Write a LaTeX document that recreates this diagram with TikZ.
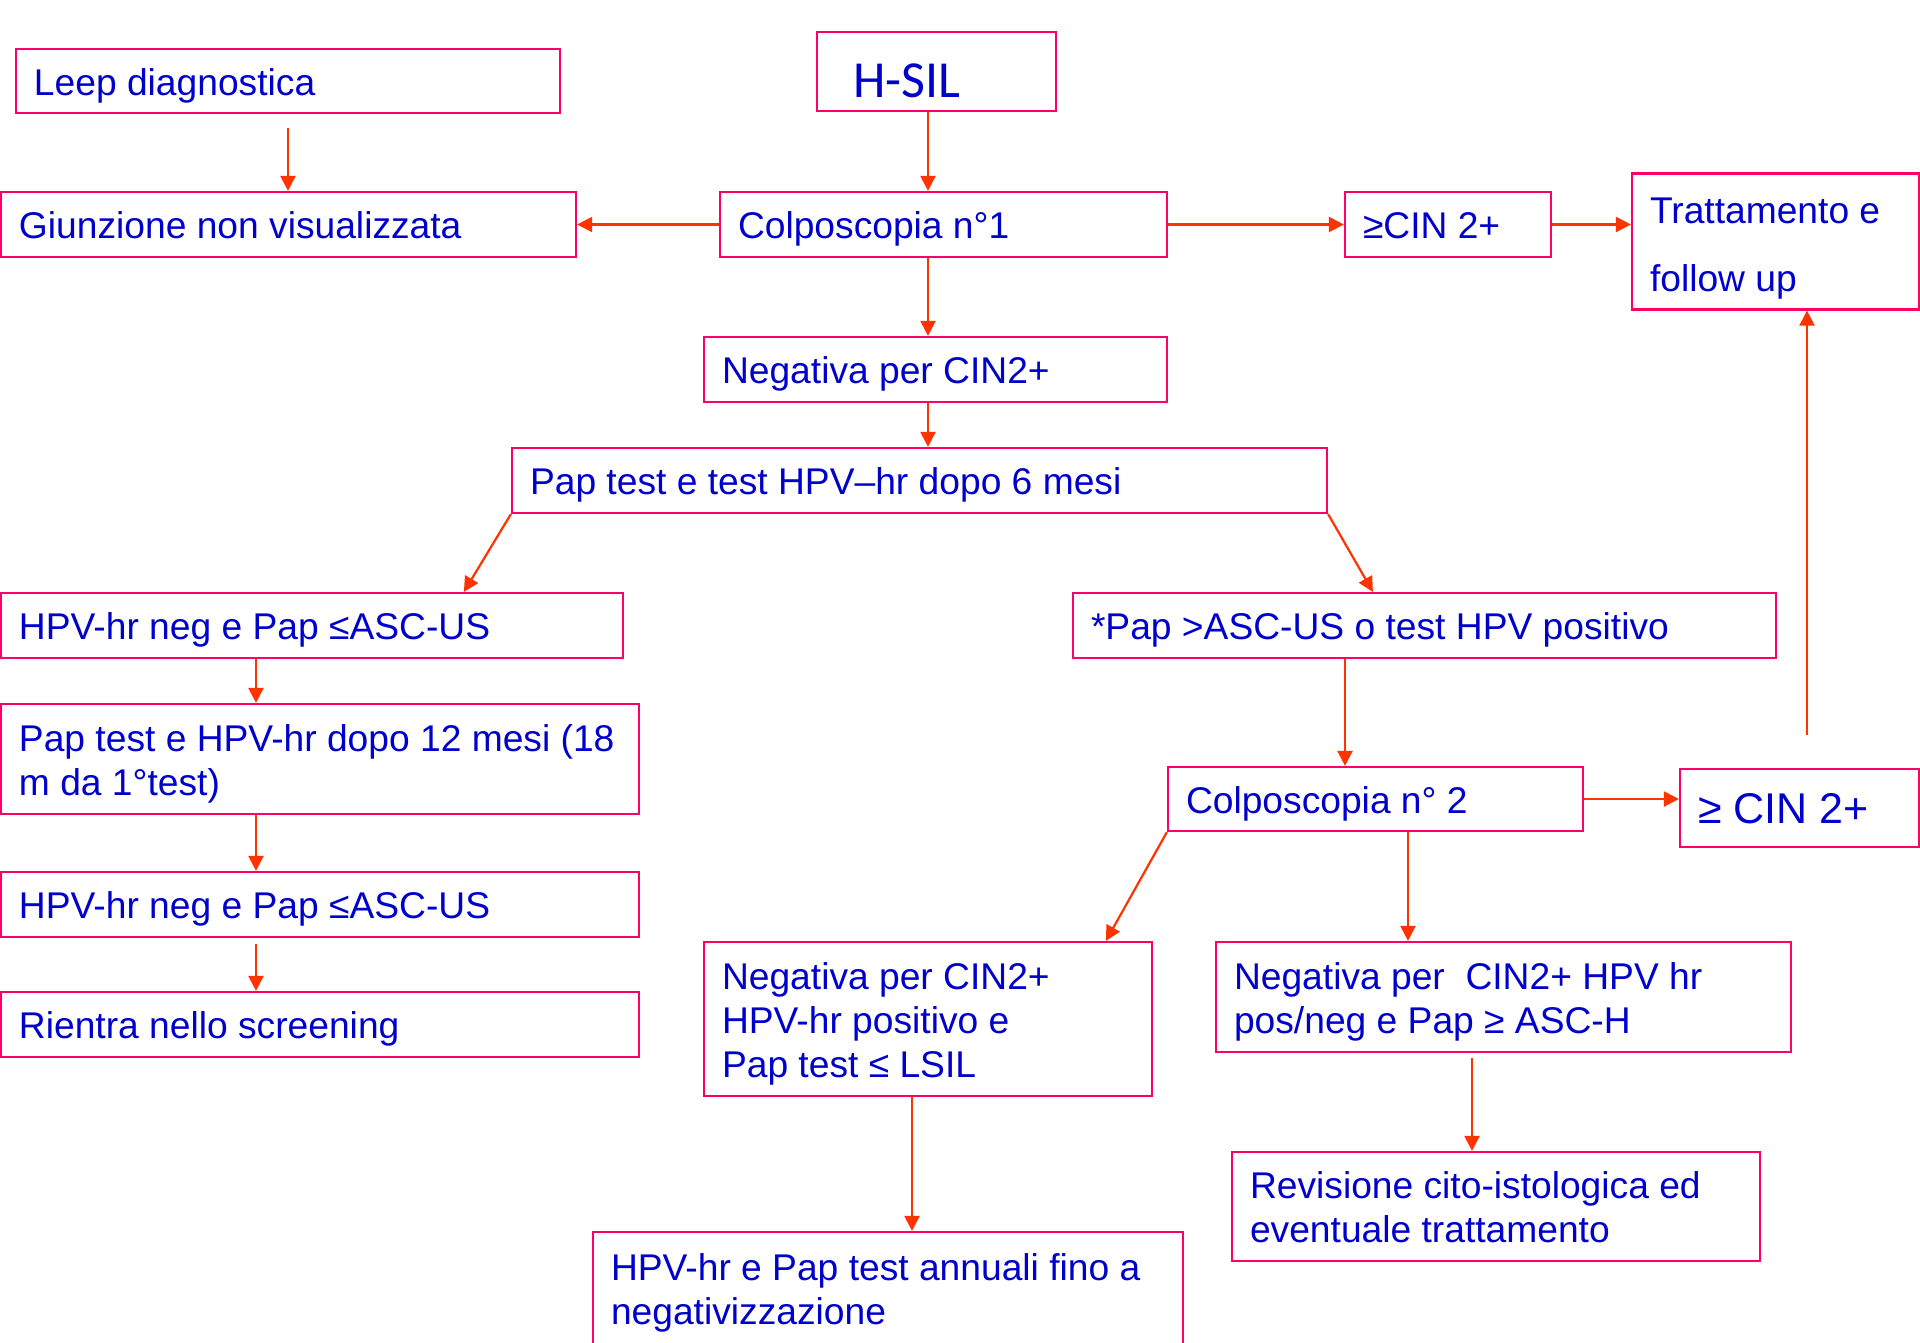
\documentclass[tikz,border=0pt]{standalone}
\usepackage{fontspec}
\setmainfont{Liberation Sans}
\newfontfamily\calib{Carlito}
\usetikzlibrary{arrows.meta,calc}
\definecolor{txtblue}{HTML}{0000CC}
\definecolor{boxred}{HTML}{FF0066}
\definecolor{arrred}{HTML}{FF3300}
\def\tsh{5.5pt}
\newcommand\bx[7][]{\node[box,#1,minimum width={(#5-#3)*1pt},minimum height={(#6-#4)*1pt}] (#2) at ({(#3+#5)/2},{(#4+#6)/2}) {\makebox[\dimexpr#5pt-#3pt-36pt\relax][l]{\raisebox{-\tsh}[\height][\depth]{\begin{tabular}{@{}l@{}}#7\end{tabular}}}};}
\begin{document}
\begin{tikzpicture}[x=1pt,y=-1pt,
 box/.style={draw=boxred, line width=2.2pt, text=txtblue, inner xsep=18pt, inner ysep=0pt, font=\fontsize{37.2}{44}\selectfont},
 arr/.style={draw=arrred, line width=2.2pt, -{Triangle[length=15pt,width=15pt]}},
]
\useasboundingbox (0,0) rectangle (1920,1342);
\bx{leep}{16}{49}{560}{113}{Leep diagnostica}
\node[box, font=\calib\fontsize{52}{62}\selectfont, minimum width=239pt, minimum height=79pt, inner xsep=36pt, text height=51.5pt, text depth=0pt] (hsil) at (936.5,71.5) {\makebox[167pt][l]{H-SIL}};
\bx{giun}{1}{192}{576}{257}{Giunzione non visualizzata}
\bx{colA}{720}{192}{1167}{257}{Colposcopia n°1}
\bx{cinA}{1345}{192}{1551}{257}{≥CIN 2+}
\bx[font=\fontsize{37.2}{68}\selectfont, execute at begin node={\def\tsh{2pt}}]{tratt}{1632}{176}{1919}{307}{Trattamento e\\follow up}
\bx{neg}{704}{337}{1167}{402}{Negativa per CIN2+}
\bx{papA}{512}{448}{1327}{513}{Pap test e test HPV–hr dopo 6 mesi}
\bx{hnA}{1}{593}{623}{658}{HPV-hr neg e Pap ≤ASC-US}
\bx{ppos}{1073}{593}{1776}{658}{*Pap >ASC-US o test HPV positivo}
\bx{papB}{1}{704}{639}{814}{Pap test e HPV-hr dopo 12 mesi (18\\m da 1°test)}
\bx{hnB}{1}{872}{639}{937}{HPV-hr neg e Pap ≤ASC-US}
\bx{rient}{1}{992}{639}{1057}{Rientra nello screening}
\bx{colB}{1168}{767}{1583}{831}{Colposcopia n° 2}
\bx[font=\fontsize{43}{52}\selectfont]{cinB}{1680}{769}{1919}{847}{≥ CIN 2+}
\bx{negL}{704}{942}{1152}{1096}{Negativa per CIN2+\\HPV-hr positivo e\\Pap test ≤ LSIL}
\bx{negR}{1216}{942}{1791}{1052}{Negativa per\ \ CIN2+ HPV hr\\pos/neg e Pap ≥ ASC-H}
\bx{rev}{1232}{1152}{1760}{1261}{Revisione cito-istologica ed\\eventuale trattamento}
\bx{ann}{593}{1232}{1183}{1345}{HPV-hr e Pap test annuali fino a\\negativizzazione}
\coordinate (vA) at (928,0);
\coordinate (vL) at (256,0);
\coordinate (vB) at (1345,0);
\coordinate (vC) at (1807,0);
\coordinate (vD) at (1408,0);
\coordinate (vE) at (912,0);
\coordinate (vF) at (1472,0);
\draw[arr, shorten <=14pt] (leep.south) -- (leep.south |- giun.north);
\draw[arr] (hsil.south -| vA) -- (colA.north -| vA);
\draw[arr] (colA.west) -- (giun.east);
\draw[arr] (colA.east) -- (cinA.west);
\draw[arr] (cinA.east) -- (cinA.east -| tratt.west);
\draw[arr] (colA.south -| vA) -- (neg.north -| vA);
\draw[arr] (neg.south -| vA) -- (papA.north -| vA);
\draw[arr] (papA.south west) -- ([xshift=464pt]hnA.north west);
\draw[arr] (papA.south east) -- ([xshift=301pt]ppos.north west);
\draw[arr] (hnA.south -| vL) -- (papB.north -| vL);
\draw[arr] (papB.south -| vL) -- (hnB.north -| vL);
\draw[arr, shorten <=6pt] (hnB.south -| vL) -- (rient.north -| vL);
\draw[arr] (ppos.south -| vB) -- (colB.north -| vB);
\draw[arr] (colB.east) -- (colB.east -| cinB.west);
\draw[arr, shorten <=33pt] (cinB.north -| vC) -- (tratt.south -| vC);
\draw[arr] (colB.south west) -- ([xshift=403pt]negL.north west);
\draw[arr] (colB.south -| vD) -- (negR.north -| vD);
\draw[arr] (negL.south -| vE) -- (ann.north -| vE);
\draw[arr, shorten <=5pt] (negR.south -| vF) -- (rev.north -| vF);
\end{tikzpicture}
\end{document}
